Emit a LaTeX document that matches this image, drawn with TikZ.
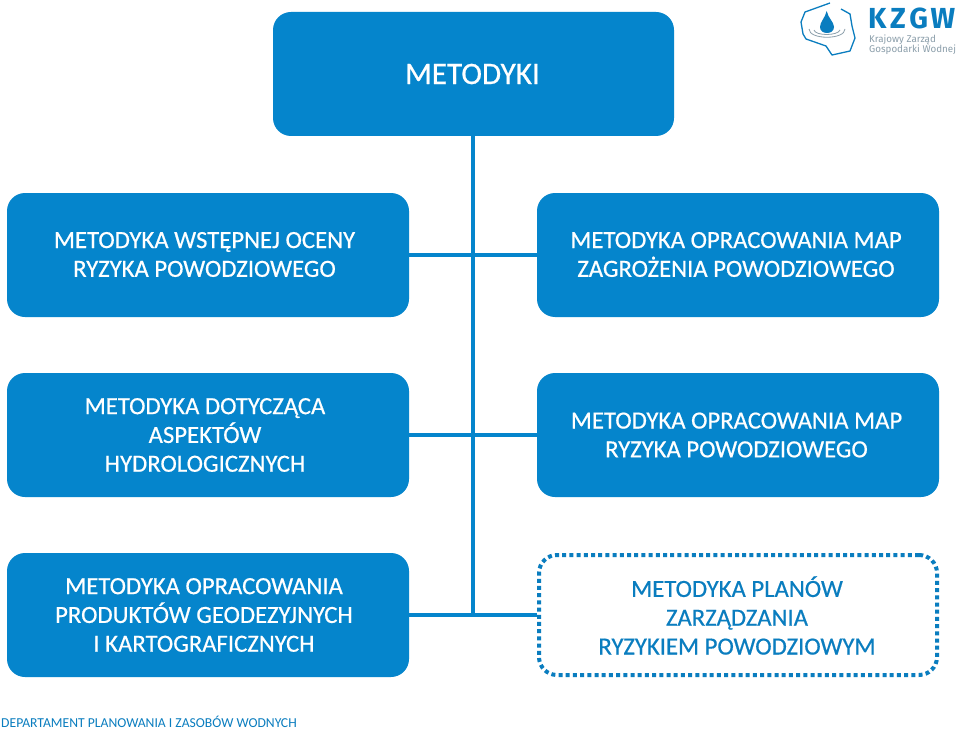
\documentclass[tikz,border=0pt]{standalone}
\usepackage{fontspec}
\setmainfont{Carlito}
\newfontfamily\logofont{Fira Sans}
\definecolor{boxblue}{HTML}{0585CC}
\definecolor{inkblue}{HTML}{0A7DBF}
\definecolor{logogrey}{HTML}{8C9FAB}
\newcommand{\heavier}{\addfontfeature{FakeBold=0.5}}
\tikzset{
  x=1pt,y=-1pt,
  box/.style={rounded corners=18pt,minimum width=402pt,minimum height=124pt,inner sep=0pt},
  solidbox/.style={box,fill=boxblue},
  dotbox/.style={box,draw=inkblue,line width=4pt,dash pattern=on 4pt off 3.2pt,minimum width=398pt,minimum height=120pt},
  boxtext/.style={align=center,inner sep=0pt,font=\fontsize{24.7pt}{28.8pt}\selectfont\heavier,text=white},
  dottext/.style={boxtext,text=inkblue},
  link/.style={draw=boxblue,line width=4pt},
}
\begin{document}
\begin{tikzpicture}
\useasboundingbox (0,0) rectangle (960,730);
\fill[white] (0,0) rectangle (960,730);
\coordinate (hub3) at (473,615);
\coordinate (top) at (473,130);
\draw[link] (top) -- (hub3);
\node[solidbox,minimum width=401pt] (root) at (473.5,74) {};
\node[boxtext,font=\fontsize{31.2pt}{34pt}\selectfont\heavier] (roott) at (472.5,74) {METODYKI};
\node[solidbox] (a) at (208,255) {};
\node[boxtext] (at) at (204.5,254.5) {METODYKA WSTĘPNEJ OCENY\\RYZYKA POWODZIOWEGO};
\node[solidbox] (b) at (738,255) {};
\node[boxtext] (bt) at (736,254.5) {METODYKA OPRACOWANIA MAP\\ZAGROŻENIA POWODZIOWEGO};
\node[solidbox] (c) at (208,435) {};
\node[boxtext] (ct) at (205,435) {METODYKA DOTYCZĄCA\\ASPEKTÓW\\HYDROLOGICZNYCH};
\node[solidbox] (d) at (738,435) {};
\node[boxtext] (dt) at (736.5,435) {METODYKA OPRACOWANIA MAP\\RYZYKA POWODZIOWEGO};
\node[solidbox] (e) at (208,615) {};
\node[boxtext] (et) at (204,615) {METODYKA OPRACOWANIA\\PRODUKTÓW GEODEZYJNYCH\\I KARTOGRAFICZNYCH};
\node[dotbox] (f) at (738,615) {};
\node[dottext] (ft) at (737,615.5) {METODYKA PLANÓW\\ZARZĄDZANIA\\RYZYKIEM POWODZIOWYM};
\draw[link] (a) -- (b);
\draw[link] (c) -- (d);
\draw[link] (e) -- (f);
\node[anchor=base west,inner sep=0pt,text=inkblue,font=\fontsize{13.65pt}{16pt}\selectfont] (foot) at (1,727) {DEPARTAMENT PLANOWANIA I ZASOBÓW WODNYCH};
% logo
\draw[inkblue,line width=1.3pt,line join=round]
 (830,3) -- (805,12) -- (801,22) -- (803,34) -- (806,39) -- (826,46) -- (832,55) -- (850,51) -- (855,38) -- (852,26) -- (850,14) -- (841,9);
\fill[inkblue] (826.7,11) .. controls (825,18) and (820,22) .. (820,27) .. controls (820,35) and (834,35) .. (834,27) .. controls (834,22) and (828,18) .. (826.7,11) -- cycle;
\draw[logogrey,line width=.8pt] (809,29) .. controls (809,40) and (845,40) .. (845,29);
\draw[logogrey,line width=.8pt] (814,30) .. controls (815,36) and (838,36) .. (840,30);
\node[anchor=base west,inner sep=0pt,text=inkblue,font=\logofont\fontsize{29pt}{29pt}\selectfont\bfseries] (kzgw) at (868,29) {K\kern3.5ptZ\kern3.5ptG\kern2.5ptW};
\node[anchor=base west,inner sep=0pt,text=logogrey,font=\logofont\fontsize{9.8pt}{10pt}\selectfont] (k1) at (869,43) {Krajowy Zarząd};
\node[anchor=base west,inner sep=0pt,text=logogrey,font=\logofont\fontsize{9.8pt}{10pt}\selectfont] (k2) at (869,53) {Gospodarki Wodnej};
\end{tikzpicture}
\end{document}
